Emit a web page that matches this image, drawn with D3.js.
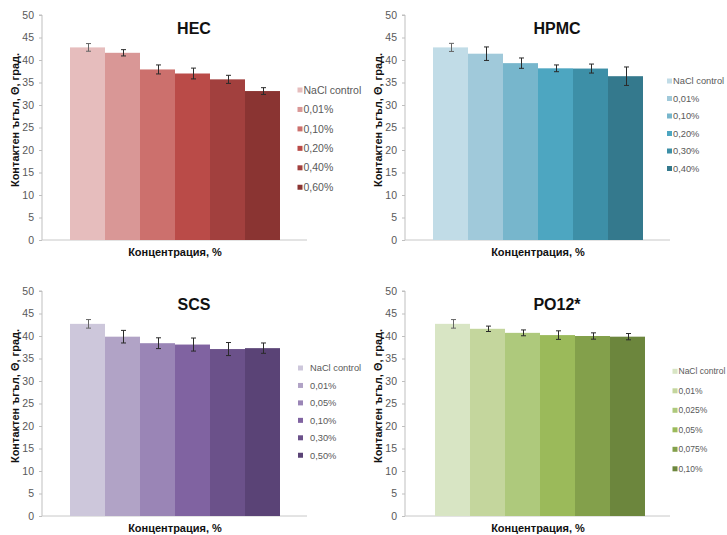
<!DOCTYPE html>
<html>
<head>
<meta charset="utf-8">
<script src="https://cdn.jsdelivr.net/npm/d3@7"></script>
<style>
  html, body { margin: 0; padding: 0; background: #fff; }
  svg { display: block; font-family: "Liberation Sans", Arial, sans-serif; }
</style>
</head>
<body>
<svg id="chart" width="727" height="535"></svg>
<script>
// Contact angle (degrees) per polymer concentration, mean and error
const yTicks = [0, 5, 10, 15, 20, 25, 30, 35, 40, 45, 50];

const hecLabels = ["NaCl control", "0,01%", "0,10%", "0,20%", "0,40%", "0,60%"];
const hecValues = [42.8, 41.6, 37.9, 37.0, 35.7, 33.1];
const hecErrors = [0.85, 0.7, 1.0, 1.2, 0.9, 0.75];

const hpmcLabels = ["NaCl control", "0,01%", "0,10%", "0,20%", "0,30%", "0,40%"];
const hpmcValues = [42.8, 41.4, 39.3, 38.15, 38.1, 36.4];
const hpmcErrors = [0.9, 1.5, 1.15, 0.75, 1.0, 2.05];

const scsLabels = ["NaCl control", "0,01%", "0,05%", "0,10%", "0,30%", "0,50%"];
const scsValues = [42.7, 39.85, 38.4, 38.1, 37.1, 37.3];
const scsErrors = [0.95, 1.4, 1.2, 1.45, 1.45, 1.15];

const po12Labels = ["NaCl control", "0,01%", "0,025%", "0,05%", "0,075%", "0,10%"];
const po12Values = [42.7, 41.6, 40.7, 40.2, 40.0, 39.85];
const po12Errors = [0.95, 0.6, 0.65, 0.95, 0.7, 0.7];

const hecColors  = ["#e6bdbd", "#d99796", "#cc706d", "#ba4b48", "#a2403e", "#8a3432"];
const hpmcColors = ["#c1dce7", "#a0c9da", "#77b6cc", "#4da6c1", "#3d8fa7", "#34798d"];
const scsColors  = ["#cdc7db", "#b1a3c6", "#9a85b6", "#8063a1", "#6b518a", "#5a4376"];
const po12Colors = ["#d8e5c4", "#c4d69d", "#aec97c", "#9bba5a", "#83a04b", "#6c863d"];

const yTitle = "Контактен ъгъл, Θ, град.";
const xTitle = "Концентрация, %";

const panels = [
  { title: "HEC",   labels: hecLabels,  values: hecValues,  errors: hecErrors,  colors: hecColors,
    ox: 0,   oy: 0,   bars: [70, 280], leg: { y: 90, step: 19.45, sq: 297.5, tx: 303.5, fs: 10.5 } },
  { title: "HPMC",  labels: hpmcLabels, values: hpmcValues, errors: hpmcErrors, colors: hpmcColors,
    ox: 363, oy: 0,   bars: [70, 280], leg: { y: 81, step: 17.5, sq: 304, tx: 310, fs: 9.3 } },
  { title: "SCS",   labels: scsLabels,  values: scsValues,  errors: scsErrors,  colors: scsColors,
    ox: 0,   oy: 276, bars: [70, 280], leg: { y: 92, step: 17.45, sq: 298, tx: 310, fs: 9.3 } },
  { title: "PO12*", labels: po12Labels, values: po12Values, errors: po12Errors, colors: po12Colors,
    ox: 363, oy: 276, bars: [72, 282], leg: { y: 95.3, step: 19.5, sq: 309.5, tx: 315.5, fs: 8.5 } }
];

const svg = d3.select("#chart");

panels.forEach(p => {
  const g = svg.append("g").attr("transform", `translate(${p.ox},${p.oy})`);
  const axisX0 = 42, axisX1 = 307;

  const y = d3.scaleLinear().domain([0, 50]).range([240, 15]);
  const x = d3.scaleBand().domain(p.labels).range(p.bars).paddingInner(0).paddingOuter(0);

  // value axis
  const yAxis = d3.axisLeft(y).tickValues(yTicks).tickSize(3).tickPadding(5);
  const ya = g.append("g").attr("transform", `translate(${axisX0},0)`).call(yAxis);
  ya.select(".domain").attr("stroke", "#bfbfbf").attr("d", `M-3,${y(50)}H0V${y(0)}`);
  ya.selectAll(".tick line").attr("stroke", "#bfbfbf");
  ya.selectAll(".tick text").attr("fill", "#595959").attr("font-size", "10.5px")
    .attr("font-family", "'Liberation Sans', Arial, sans-serif");

  // category baseline
  g.append("line")
    .attr("x1", axisX0).attr("x2", axisX1)
    .attr("y1", y(0)).attr("y2", y(0))
    .attr("stroke", "#c8c8c8").attr("stroke-width", 1);

  // bars
  g.selectAll("rect.bar").data(p.values).join("rect")
    .attr("class", "bar")
    .attr("x", (d, i) => x(p.labels[i]))
    .attr("width", x.bandwidth())
    .attr("y", d => y(d))
    .attr("height", d => y(0) - y(d))
    .attr("fill", (d, i) => p.colors[i]);

  // error bars
  const eg = g.append("g").attr("stroke-width", 1).attr("fill", "none");
  p.values.forEach((v, i) => {
    const cx = Math.round(x(p.labels[i]) + x.bandwidth() / 2) + 0.5;
    const top = y(v + p.errors[i]), bot = y(v - p.errors[i]);
    const stroke = i === 0 ? "#666" : "#2a2a2a";
    eg.append("line").attr("x1", cx).attr("x2", cx).attr("y1", top).attr("y2", bot).attr("stroke", stroke);
    eg.append("line").attr("x1", cx - 2.5).attr("x2", cx + 2.5).attr("y1", top).attr("y2", top).attr("stroke", stroke);
    eg.append("line").attr("x1", cx - 2.5).attr("x2", cx + 2.5).attr("y1", bot).attr("y2", bot).attr("stroke", stroke);
  });

  // title
  g.append("text")
    .attr("x", 194).attr("y", 34)
    .attr("text-anchor", "middle")
    .attr("font-size", "16px").attr("font-weight", "bold").attr("fill", "#111")
    .text(p.title);

  // axis titles
  g.append("text")
    .attr("transform", "translate(19,120) rotate(-90)")
    .attr("text-anchor", "middle")
    .attr("font-size", "11px").attr("font-weight", "bold").attr("fill", "#111")
    .text(yTitle);
  g.append("text")
    .attr("x", 175).attr("y", 256)
    .attr("text-anchor", "middle")
    .attr("font-size", "11px").attr("font-weight", "bold").attr("fill", "#111")
    .text(xTitle);

  // legend
  const lg = g.append("g");
  p.labels.forEach((lab, i) => {
    const cy = p.leg.y + i * p.leg.step;
    lg.append("rect")
      .attr("x", p.leg.sq).attr("y", cy - 2.5)
      .attr("width", 5).attr("height", 5)
      .attr("fill", p.colors[i]);
    lg.append("text")
      .attr("x", p.leg.tx).attr("y", cy)
      .attr("dy", "0.35em")
      .attr("font-size", p.leg.fs + "px").attr("fill", "#595959")
      .text(lab);
  });
});
</script>
</body>
</html>
